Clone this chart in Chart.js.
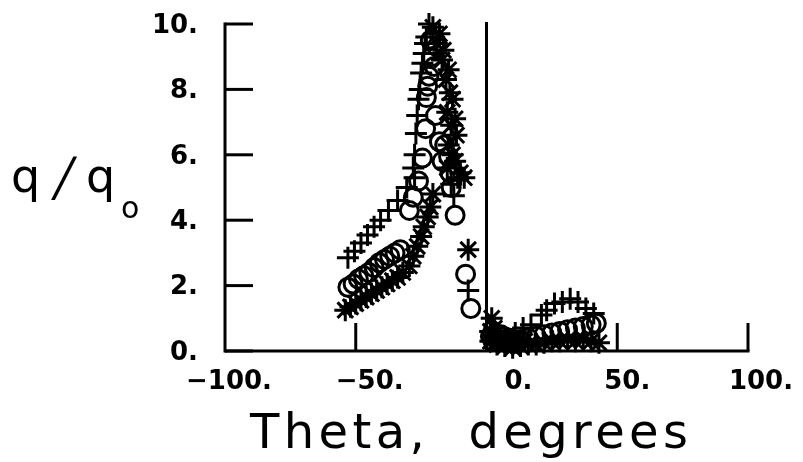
<!DOCTYPE html>
<html>
<head>
<meta charset="utf-8">
<script src="https://cdn.jsdelivr.net/npm/chart.js@4.4.1/dist/chart.umd.min.js"></script>
<style>
  html, body { margin: 0; padding: 0; background: #fff; }
  #wrap { width: 803px; height: 462px; }
</style>
</head>
<body>
<div id="wrap"><canvas id="myChart" width="803" height="462"></canvas></div>
<script>
// tick values and labels
const xTicks = [-100, -50, 0, 50, 100];
const xTickLabels = ['\u2212100.', '\u221250.', '0.', '50.', '100.'];
const yTicks = [0, 2, 4, 6, 8, 10];
const yTickLabels = ['0.', '2.', '4.', '6.', '8.', '10.'];

// "+" series
const plusX = [-53, -50.5, -48, -45.5, -43, -40.5, -37.5, -34, -30.5, -27.5, -28, -27.5, -27, -26.5, -26, -25.5, -25, -24.5, -24, -23.5, -23, -22, -13.5, -12.5, -11, -7, 1.5, 3, 5, 8, 11, 14, 17, 21, 23, 26, 29, 32, 35, 38, 41];
const plusY = [2.85, 3.05, 3.3, 3.55, 3.8, 4.0, 4.3, 4.6, 5.0, 5.3, 5.6, 6.0, 6.65, 7.2, 7.7, 8.0, 8.5, 8.8, 9.1, 9.4, 9.6, 10.0, 5.1, 4.75, 5.3, 1.85, 0.6, 0.35, 0.45, 0.4, 0.55, 0.7, 0.8, 1.1, 1.25, 1.45, 1.5, 1.6, 1.5, 1.3, 1.15];

// "o" series
const circX = [-53, -51, -49, -47, -45, -43, -41, -39, -37, -35, -33, -29.5, -28, -26, -24.5, -23.3, -23, -22.5, -22, -21, -21.5, -20, -19, -19.5, -18, -17, -16, -14.5, -14, -13.5, -12, -8, -6, 1.5, 2.5, 4, 5.5, 7, 8.5, 10, 13, 16, 19, 22, 25, 28, 31, 34, 37, 40, 42];
const circY = [1.95, 2.05, 2.2, 2.3, 2.4, 2.55, 2.7, 2.8, 2.9, 3.0, 3.1, 4.3, 4.7, 5.2, 5.9, 6.8, 7.75, 8.1, 8.4, 9.0, 9.5, 8.7, 9.3, 7.2, 6.4, 5.8, 6.3, 5.95, 5.45, 5.0, 4.15, 2.35, 1.3, 0.45, 0.3, 0.35, 0.5, 0.3, 0.4, 0.3, 0.35, 0.4, 0.45, 0.5, 0.55, 0.6, 0.65, 0.7, 0.75, 0.8, 0.85];

// "*" series
const starX = [-54, -52, -50, -48, -46, -44, -42, -40, -38, -36, -34, -32, -29.5, -28, -26.5, -25, -24, -22.5, -21.5, -20.5, -20.5, -18, -19, -16.5, -17, -14.5, -15.5, -14, -13, -15, -12, -13.5, -11.5, -14.5, -13, -12, -15, -10, -8.5, -7, 1.5, 2, 2.5, 1.5, 3, 4, 5.5, 7, 8.5, 10, 11.5, 13, 14.5, 16, 19, 22, 25, 28, 31, 34, 37, 40, 43];
const starY = [1.25, 1.35, 1.45, 1.55, 1.65, 1.75, 1.85, 1.95, 2.05, 2.15, 2.25, 2.4, 2.6, 2.9, 3.2, 3.5, 3.8, 4.1, 4.4, 4.8, 9.9, 9.7, 9.4, 9.2, 8.9, 8.6, 8.3, 7.9, 7.7, 7.3, 7.1, 6.9, 6.6, 6.3, 6.0, 5.8, 5.6, 5.45, 5.3, 3.1, 0.6, 1.0, 0.4, 0.3, 0.7, 0.2, 0.45, 0.15, 0.3, 0.1, 0.25, 0.15, 0.3, 0.2, 0.2, 0.25, 0.3, 0.3, 0.35, 0.3, 0.35, 0.3, 0.25];

const pts = (xs, ys) => xs.map((v, i) => ({ x: v, y: ys[i] }));

function fitText(ctx, text, left, right, y) {
  ctx.letterSpacing = '0px';
  const w = ctx.measureText(text).width;
  const n = [...text].length;
  const sp = n > 1 ? ((right - left) - w) / (n - 1) : 0;
  ctx.letterSpacing = sp + 'px';
  ctx.textAlign = 'left';
  ctx.fillText(text, left, y);
  ctx.letterSpacing = '0px';
}

// old plotter style axes
const oldAxes = {
  id: 'oldAxes',
  beforeDatasetsDraw(chart) {
    const { ctx, scales: { x, y } } = chart;
    const x0 = x.getPixelForValue(-100);
    const y0 = y.getPixelForValue(0);
    const line = (a, b, c, d) => { ctx.beginPath(); ctx.moveTo(a, b); ctx.lineTo(c, d); ctx.stroke(); };
    ctx.save();
    ctx.strokeStyle = '#000';
    ctx.lineWidth = 3;
    line(x0, y.getPixelForValue(10) - 1.5, x0, y0 + 1.5);
    line(x0, y0, x.getPixelForValue(100) + 1.5, y0);
    yTicks.forEach(v => {
      const p = y.getPixelForValue(v);
      line(x0, p, x0 + 28, p);
    });
    xTicks.forEach(v => {
      if (v === -100) return;
      const p = x.getPixelForValue(v);
      if (v === 0) line(p, chart.chartArea.top - 2, p, y0);
      else line(p, y0, p, y0 - 28);
    });
    ctx.restore();
  },
  afterDraw(chart) {
    const { ctx, scales: { x, y } } = chart;
    ctx.save();
    ctx.fillStyle = '#000';
    ctx.textBaseline = 'middle';
    ctx.font = 'bold 26px "DejaVu Sans"';
    ctx.textAlign = 'right';
    yTicks.forEach((v, i) => ctx.fillText(yTickLabels[i], 198, y.getPixelForValue(v) + 2));
    const shift = [4, 14, 32, 10, 13];
    ctx.textAlign = 'center';
    xTicks.forEach((v, i) => ctx.fillText(xTickLabels[i], x.getPixelForValue(v) + shift[i], 382));
    ctx.textBaseline = 'alphabetic';
    ctx.font = '48px "DejaVu Sans"';
    fitText(ctx, 'Theta,  degrees', 250, 688, 448);
    // y title q/q with subscript o
    ctx.font = '46px "DejaVu Sans"';
    ctx.textAlign = 'left';
    ctx.fillText('q', 11, 192);
    ctx.fillText('q', 86, 192);
    ctx.save();
    ctx.translate(60, 195);
    ctx.transform(1, 0, -0.28, 1.15, 0, 0);
    ctx.textAlign = 'center';
    ctx.fillText('/', 0, 0);
    ctx.restore();
    ctx.font = '30px "DejaVu Sans"';
    ctx.fillText('o', 121, 218);
    ctx.restore();
  }
};

const common = {
  showLine: false,
  borderColor: '#000',
  backgroundColor: 'rgba(0,0,0,0)',
  pointBorderWidth: 3,
  clip: false
};

new Chart(document.getElementById('myChart'), {
  type: 'scatter',
  data: {
    datasets: [
      { ...common, label: '+', data: pts(plusX, plusY), pointStyle: 'cross', pointRadius: 11 },
      { ...common, label: 'o', data: pts(circX, circY), pointStyle: 'circle', pointRadius: 9 },
      { ...common, label: '*', data: pts(starX, starY), pointStyle: 'star', pointRadius: 11 }
    ]
  },
  options: {
    responsive: false,
    animation: false,
    devicePixelRatio: 1,
    layout: { padding: { left: 225, right: 55, top: 24, bottom: 111 } },
    plugins: { legend: { display: false }, tooltip: { enabled: false } },
    scales: {
      x: { type: 'linear', min: -100, max: 100, display: false },
      y: { type: 'linear', min: 0, max: 10, display: false }
    }
  },
  plugins: [oldAxes]
});
</script>
</body>
</html>
